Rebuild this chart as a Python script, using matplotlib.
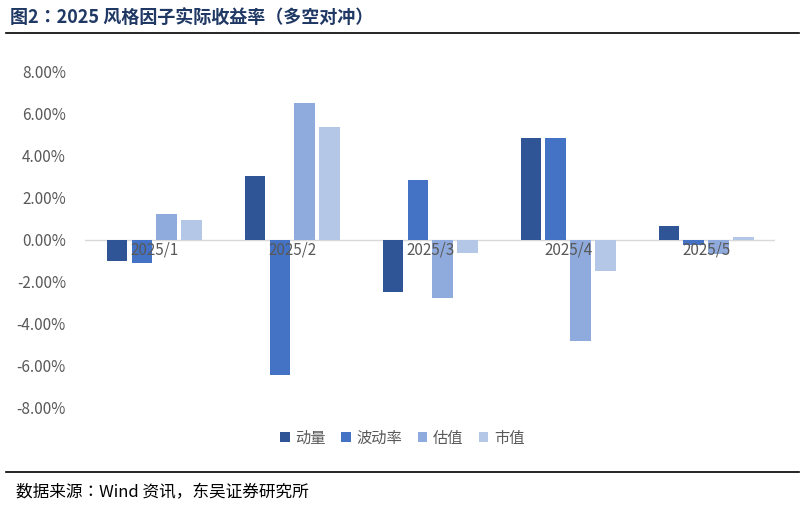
import matplotlib.pyplot as plt
import numpy as np
from matplotlib.ticker import FuncFormatter

plt.rcParams["font.family"] = ["Noto Sans CJK SC", "Noto Sans CJK JP", "DejaVu Sans"]

months = ["2025/1", "2025/2", "2025/3", "2025/4", "2025/5"]
momentum = [-1.0, 3.05, -2.52, 4.86, 0.67]
volatility = [-1.1, -6.48, 2.86, 4.86, -0.25]
value = [1.24, 6.52, -2.81, -4.86, -0.7]
size = [0.95, 5.38, -0.62, -1.52, 0.1]

names = ["动量", "波动率", "估值", "市值"]
colors = ["#2F5597", "#4472C4", "#8FAADC", "#B4C7E7"]

fig = plt.figure(figsize=(8.05, 5.07), dpi=100)
ax = fig.add_axes([0.106, 0.197, 0.857, 0.661])

x = np.arange(len(months))
w = 0.15
gap = 0.18
for i, (s, c, n) in enumerate(zip([momentum, volatility, value, size], colors, names)):
    ax.bar(x + (i - 1.5) * gap, np.array(s) / 100, w, color=c, label=n, zorder=2)

ax.set_ylim(-0.08, 0.08)
ax.set_xlim(-0.5, 4.5)
ax.set_yticks(np.arange(-0.08, 0.081, 0.02))
ax.yaxis.set_major_formatter(FuncFormatter(lambda v, p: f"{v*100:.2f}%"))
ax.tick_params(axis="y", length=0, labelsize=11, colors="#595959", pad=14)
ax.set_xticks([])
for sp in ax.spines.values():
    sp.set_visible(False)
ax.axhline(0, color="#D9D9D9", lw=1, zorder=1)
for xi, m in zip(x, months):
    ax.text(xi, -0.001, m, ha="center", va="top", fontsize=11, color="#595959", zorder=3)

fig.legend(loc="center", bbox_to_anchor=(0.5, 0.136), ncol=4, frameon=False,
           fontsize=11, handlelength=0.6, handleheight=0.6, columnspacing=1.0,
           handletextpad=0.4, labelcolor="#595959")

fig.text(0.012, 0.965, "图2：2025 风格因子实际收益率（多空对冲）", fontsize=13,
         fontweight="bold", color="#1F3864", va="center")
fig.add_artist(plt.Line2D([0.008, 0.992], [0.935, 0.935], color="black", lw=1.2))
fig.add_artist(plt.Line2D([0.008, 0.992], [0.069, 0.069], color="black", lw=1.2))
fig.text(0.02, 0.028, "数据来源：Wind 资讯，东吴证券研究所", fontsize=12, va="center")

fig.savefig("out.png", dpi=100)
